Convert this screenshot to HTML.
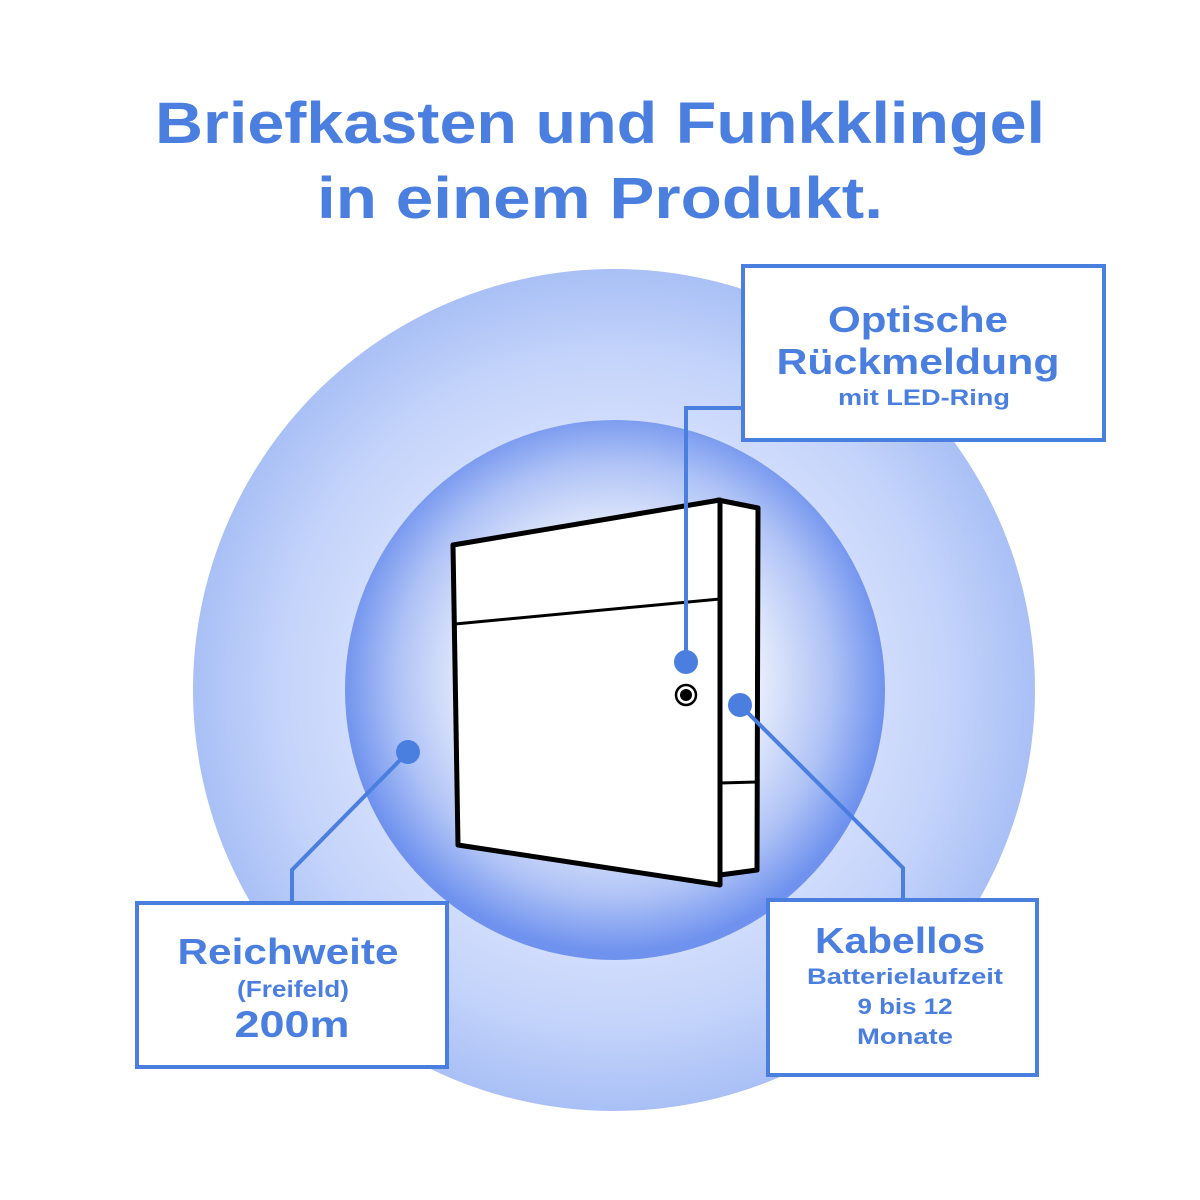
<!DOCTYPE html>
<html><head><meta charset="utf-8"><style>html,body{margin:0;padding:0;background:#fff}svg{display:block}</style></head>
<body>
<svg width="1200" height="1200" viewBox="0 0 1200 1200" xmlns="http://www.w3.org/2000/svg" font-family="Liberation Sans, sans-serif" font-weight="bold">
<defs>
<radialGradient id="outer" cx="614" cy="690" r="421" gradientUnits="userSpaceOnUse">
<stop offset="0.6" stop-color="#d3defc"/><stop offset="0.8" stop-color="#c3d3fa"/><stop offset="1" stop-color="#a9c0f6"/>
</radialGradient>
<radialGradient id="inner" cx="614" cy="680" r="272" gradientUnits="userSpaceOnUse">
<stop offset="0" stop-color="#ffffff"/><stop offset="0.5" stop-color="#eef2fd"/><stop offset="0.8" stop-color="#aec2f6"/><stop offset="1" stop-color="#6f92ee"/>
</radialGradient>
</defs>
<rect width="1200" height="1200" fill="#fff"/>
<g fill="#4a7fe0" text-anchor="middle">
<text x="600" y="143" font-size="58" textLength="890" lengthAdjust="spacingAndGlyphs">Briefkasten und Funkklingel</text>
<text x="600" y="218" font-size="58" textLength="566" lengthAdjust="spacingAndGlyphs">in einem Produkt.</text>
</g>
<circle cx="614" cy="690" r="421" fill="url(#outer)"/>
<circle cx="615" cy="690" r="270" fill="url(#inner)"/>
<g stroke="#000" stroke-width="5" stroke-linejoin="round" fill="#fff">
<polygon points="718,500 758,508 757,870 720,875"/>
<polygon points="453,545 720,500 720,885 458,845"/>
</g>
<g stroke="#000" stroke-width="3" fill="none">
<line x1="455" y1="624" x2="720" y2="599"/>
<line x1="720" y1="783" x2="757" y2="782"/>
</g>
<circle cx="686" cy="695" r="10" fill="#fff" stroke="#000" stroke-width="2.5"/>
<circle cx="686" cy="695" r="6" fill="#000"/>
<g stroke="#4a7fe0" stroke-width="4" fill="none">
<polyline points="686,662 686,408 743,408"/>
<polyline points="408,752 292,870 292,903"/>
<polyline points="740,705 903,868 903,900"/>
</g>
<g fill="#4a7fe0">
<circle cx="686" cy="662" r="12"/>
<circle cx="408" cy="752" r="12"/>
<circle cx="740" cy="705" r="12"/>
</g>
<g fill="#fff" stroke="#4a7fe0" stroke-width="4">
<rect x="743" y="266" width="361" height="174"/>
<rect x="137" y="903" width="310" height="164"/>
<rect x="768" y="900" width="269" height="175"/>
</g>
<g fill="#4a7fe0" text-anchor="middle" lengthAdjust="spacingAndGlyphs">
<text x="918" y="332" font-size="36" textLength="180" lengthAdjust="spacingAndGlyphs">Optische</text>
<text x="918" y="374" font-size="36" textLength="283" lengthAdjust="spacingAndGlyphs">Rückmeldung</text>
<text x="924" y="405" font-size="22" textLength="172" lengthAdjust="spacingAndGlyphs">mit LED-Ring</text>
<text x="288" y="964" font-size="36" textLength="221" lengthAdjust="spacingAndGlyphs">Reichweite</text>
<text x="293" y="997" font-size="23" textLength="112" lengthAdjust="spacingAndGlyphs">(Freifeld)</text>
<text x="292" y="1037" font-size="37" textLength="115" lengthAdjust="spacingAndGlyphs">200m</text>
<text x="900" y="953" font-size="36" textLength="170" lengthAdjust="spacingAndGlyphs">Kabellos</text>
<text x="905" y="984" font-size="22" textLength="196" lengthAdjust="spacingAndGlyphs">Batterielaufzeit</text>
<text x="905" y="1014" font-size="22" textLength="95" lengthAdjust="spacingAndGlyphs">9 bis 12</text>
<text x="905" y="1044" font-size="22" textLength="96" lengthAdjust="spacingAndGlyphs">Monate</text>
</g>
</svg>
</body></html>
